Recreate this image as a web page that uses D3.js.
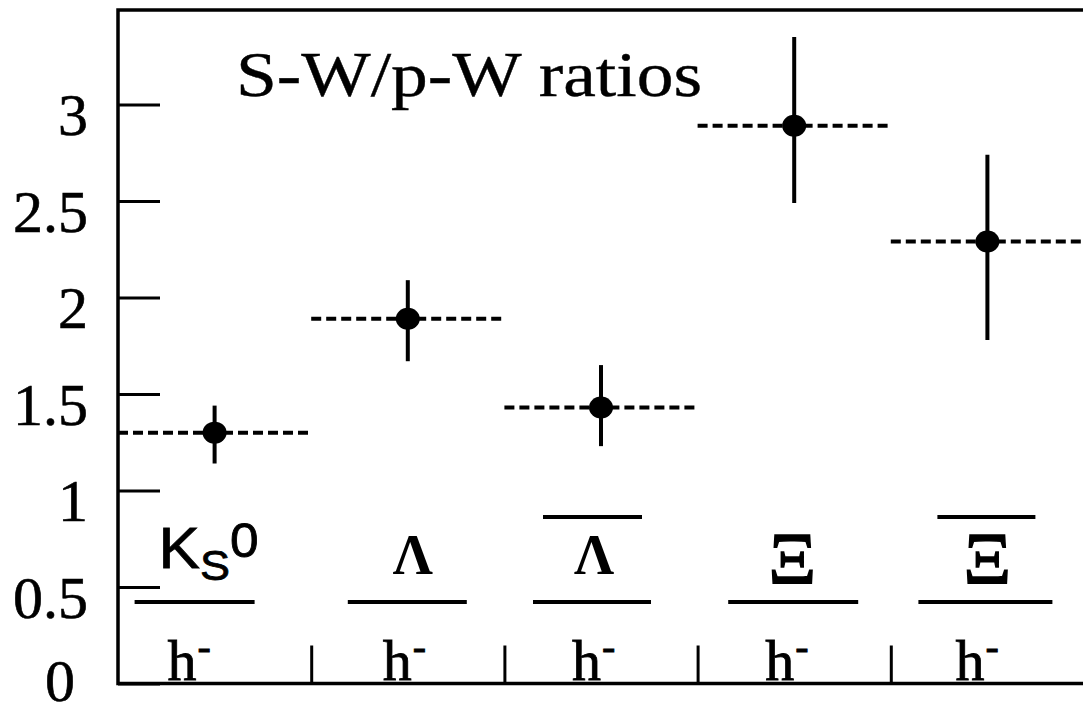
<!DOCTYPE html>
<html>
<head>
<meta charset="utf-8">
<script src="https://cdn.jsdelivr.net/npm/d3@7"></script>
<style>
  body { margin: 0; background: #fff; }
  svg { display: block; }
</style>
</head>
<body>
<svg id="chart" width="1083" height="713"></svg>
<script>
// particles, S-W / p-W ratio, errors
const particles = ['K0s', 'Lambda', 'antiLambda', 'Xi', 'antiXi'];
const numerators = ['K', 'Λ', 'Λ', 'Ξ', 'Ξ'];
const hasBar = [false, false, true, false, true];
const ratios = [1.30, 1.89, 1.43, 2.89, 2.29];
const errUp = [0.14, 0.20, 0.22, 0.46, 0.45];
const errDown = [0.16, 0.22, 0.20, 0.40, 0.51];
const yTicks = [0, 0.5, 1, 1.5, 2, 2.5, 3];
const title = 'S-W/p-W ratios';

const svg = d3.select('#chart');
const margin = { left: 118, top: 10, right: -1, bottom: 30 };
const width = 1083;
const height = 713;

const x = d3.scaleLinear()
  .domain([0, particles.length])
  .range([margin.left, width - margin.right]);
const y = d3.scaleLinear()
  .domain([0, 3.49])
  .range([height - margin.bottom + 0.5, margin.top]);

const serif = "'Liberation Serif', 'DejaVu Serif', serif";
const sans = "'Liberation Sans', Arial, sans-serif";

// hand placement of the ratio labels around each bin centre
const fracX = [[-80, 40], [-60, 59], [-68, 50], [-66, 64], [-69, 65]];
const barX = [null, null, [-58, 41], null, [-50, 48]];
const numDx = [0, 5, -7, -2, 0];
const hDx = [-47, -25, -29, -29, -32];

// frame
svg.append('path')
  .attr('d', `M${x(particles.length) + 2},${y(3.49)}H${x(0)}V${y(0)}H${x(particles.length) + 2}`)
  .attr('fill', 'none')
  .attr('stroke', '#000')
  .attr('stroke-width', 3.5);

// y axis, ticks point inward
const yAxis = svg.append('g')
  .attr('transform', `translate(${x(0)},0)`)
  .call(d3.axisLeft(y).tickValues(yTicks).tickSize(-42).tickPadding(30)
    .tickFormat(d3.format('')));
yAxis.select('.domain').remove();
yAxis.selectAll('line').attr('stroke', '#000').attr('stroke-width', 3);
yAxis.selectAll('text')
  .attr('font-family', serif)
  .attr('font-size', 60)
  .attr('fill', '#000')
  .attr('stroke', '#000')
  .attr('stroke-width', 0.6)
  .attr('dy', d => d === 0 ? 17 : 30)
  .attr('dx', d => d === 0 ? -13 : 0);

// x separators on bottom axis
const xAxis = svg.append('g')
  .attr('transform', `translate(0,${y(0)})`)
  .call(d3.axisBottom(x).tickValues([1, 2, 3, 4]).tickSize(-38).tickFormat(''));
xAxis.select('.domain').remove();
xAxis.selectAll('line').attr('stroke', '#000').attr('stroke-width', 3);

// title
svg.append('text')
  .attr('x', 236)
  .attr('y', 96)
  .attr('font-family', serif)
  .attr('font-size', 64)
  .attr('textLength', 466)
  .attr('lengthAdjust', 'spacingAndGlyphs')
  .attr('stroke', '#000')
  .attr('stroke-width', 0.4)
  .text(title);

const rows = particles.map((p, i) => ({
  p, i, v: ratios[i], up: errUp[i], dn: errDown[i],
  num: numerators[i], bar: hasBar[i]
}));

// dashed horizontal lines across each bin
svg.selectAll('.bin')
  .data(rows)
  .join('line')
  .attr('class', 'bin')
  .attr('x1', d => x(d.i))
  .attr('x2', d => x(d.i + 1))
  .attr('y1', d => y(d.v))
  .attr('y2', d => y(d.v))
  .attr('stroke', '#000')
  .attr('stroke-width', 4)
  .attr('stroke-dasharray', '10,5');

// error bars
svg.selectAll('.err')
  .data(rows)
  .join('line')
  .attr('class', 'err')
  .attr('x1', d => x(d.i + 0.5))
  .attr('x2', d => x(d.i + 0.5))
  .attr('y1', d => y(d.v + d.up))
  .attr('y2', d => y(d.v - d.dn))
  .attr('stroke', '#000')
  .attr('stroke-width', 4);

// points
svg.selectAll('.pt')
  .data(rows)
  .join('ellipse')
  .attr('class', 'pt')
  .attr('cx', d => x(d.i + 0.5))
  .attr('cy', d => y(d.v))
  .attr('rx', 12)
  .attr('ry', 11)
  .attr('fill', '#000');

// ratio labels: numerator / fraction bar / h-
const labels = svg.selectAll('.lab')
  .data(rows)
  .join('g')
  .attr('class', 'lab')
  .attr('transform', d => `translate(${x(d.i + 0.5)},0)`);

labels.append('line')
  .attr('x1', d => fracX[d.i][0])
  .attr('x2', d => fracX[d.i][1])
  .attr('y1', 602)
  .attr('y2', 602)
  .attr('stroke', '#000')
  .attr('stroke-width', 4);

labels.filter(d => d.bar).append('line')
  .attr('x1', d => barX[d.i][0])
  .attr('x2', d => barX[d.i][1])
  .attr('y1', 517)
  .attr('y2', 517)
  .attr('stroke', '#000')
  .attr('stroke-width', 4);

labels.filter(d => d.i > 0).append('text')
  .attr('x', d => numDx[d.i])
  .attr('y', d => d.num === 'Ξ' ? 584 : 574)
  .attr('text-anchor', 'middle')
  .attr('font-family', serif)
  .attr('font-size', d => d.num === 'Ξ' ? 74 : 56)
  .attr('font-weight', d => d.num === 'Ξ' ? 'normal' : 'bold')
  .attr('stroke', '#000')
  .attr('stroke-width', d => d.num === 'Ξ' ? 1.5 : 0)
  .text(d => d.num);

const k = labels.filter(d => d.i === 0).append('text')
  .attr('x', -56)
  .attr('y', 568)
  .attr('font-family', sans)
  .attr('font-size', 58)
  .attr('stroke', '#000')
  .attr('stroke-width', 0.8)
  .attr('textLength', 100)
  .attr('lengthAdjust', 'spacingAndGlyphs');
k.append('tspan').text('K');
k.append('tspan').attr('font-size', 42).attr('dy', 12).text('S');
k.append('tspan').attr('font-size', 48).attr('dy', -23).text('0');

const h = labels.append('text')
  .attr('x', d => hDx[d.i])
  .attr('y', 680)
  .attr('font-family', serif)
  .attr('font-size', 58)
  .attr('stroke', '#000')
  .attr('stroke-width', 0.8);
h.append('tspan').text('h');
h.append('tspan').attr('font-size', 40).attr('dy', -20).attr('dx', 1).text('-');
</script>
</body>
</html>
